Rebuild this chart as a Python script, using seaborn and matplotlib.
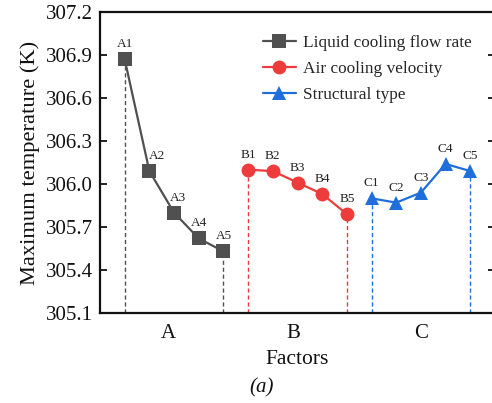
import matplotlib
matplotlib.use("Agg")
import matplotlib.pyplot as plt
import seaborn as sns
import numpy as np
import pandas as pd

sns.set_theme(style="white")
plt.rcParams['font.family'] = ['Liberation Serif', 'DejaVu Serif']

# Data
series_names = ["Liquid cooling flow rate", "Air cooling velocity", "Structural type"]
a_labels = ["A1", "A2", "A3", "A4", "A5"]
b_labels = ["B1", "B2", "B3", "B4", "B5"]
c_labels = ["C1", "C2", "C3", "C4", "C5"]
a_values = [306.87, 306.09, 305.80, 305.62, 305.53]
b_values = [306.10, 306.09, 306.01, 305.93, 305.79]
c_values = [305.90, 305.87, 305.94, 306.14, 306.09]
group_labels = ["A", "B", "C"]
y_ticks = [305.1, 305.4, 305.7, 306.0, 306.3, 306.6, 306.9, 307.2]

colors = ["#505050", "#ee3b3b", "#1e6fdc"]
markers = ["s", "o", "^"]
msizes = [9.5, 10, 10.5]
label_dx = {"A2": 5.5, "A3": 3}

fig = plt.figure(figsize=(4.92, 4.03), dpi=100)
ax = fig.add_axes([100 / 492, 90 / 403, 395 / 492, 301 / 403])

groups = [(a_labels, a_values), (b_labels, b_values), (c_labels, c_values)]
rows = []
for gi, (labs, vals) in enumerate(groups):
    for i, (l, v) in enumerate(zip(labs, vals)):
        rows.append({"x": gi * 5 + i + 1, "y": v, "label": l, "series": series_names[gi]})
df = pd.DataFrame(rows)

ymin = y_ticks[0]
for gi, name in enumerate(series_names):
    sub = df[df["series"] == name]
    sns.lineplot(data=sub, x="x", y="y", ax=ax, color=colors[gi], marker=markers[gi],
                 markersize=msizes[gi], markeredgewidth=0, linewidth=1.6, label=name)
    # dashed drop lines at first and last points
    for idx in [0, len(sub) - 1]:
        xx = sub["x"].iloc[idx]
        yy = sub["y"].iloc[idx]
        ax.plot([xx, xx], [ymin, yy], color=colors[gi], linestyle=(0, (3, 2)),
                linewidth=1.0, zorder=1)
    for xx, yy, l in zip(sub["x"], sub["y"], sub["label"]):
        ax.annotate(l, (xx, yy), xytext=(label_dx.get(l, 0), 6.5), textcoords="offset points",
                    ha="center", va="bottom", fontsize=9.5, color="#222222")

ax.set_xlim(0, 16)
ax.set_ylim(305.1, 307.2)
ax.set_yticks(y_ticks)
ax.set_yticklabels([f"{t:.1f}" for t in y_ticks])
ax.set_xticks([2.75, 7.85, 13.0])
ax.set_xticklabels(group_labels)
ax.tick_params(axis="y", direction="in", length=5, width=1.3, labelsize=15,
               left=True, right=True, pad=5, colors="#111111")
ax.tick_params(axis="x", length=0, labelsize=15, pad=8, colors="#111111")
for s in ax.spines.values():
    s.set_linewidth(1.6)
    s.set_color("#111111")
    s.set_visible(True)

ax.set_xlabel("Factors", fontsize=15.5, labelpad=5, color="#111111")
ax.set_ylabel("Maximum temperature (K)", fontsize=16.2, labelpad=4, color="#111111")

leg = ax.legend(loc="upper left", bbox_to_anchor=(0.395, 0.945), frameon=False,
                fontsize=12.4, handlelength=1.9, handletextpad=0.45, labelspacing=0.55,
                borderaxespad=0)

fig.text(262 / 492, 1 - 388 / 403, "(a)", fontsize=15, style="italic",
         ha="center", va="center", color="#111111")

fig.savefig("out.png", dpi=100)
